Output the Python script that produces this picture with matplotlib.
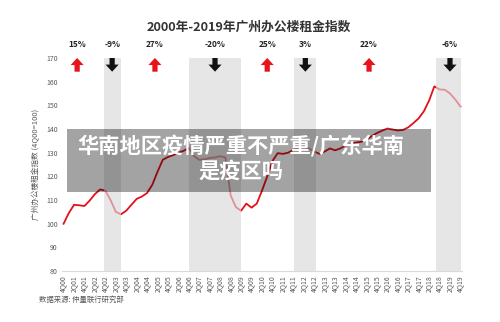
'''
2000-2019 Guangzhou office rent index, with up/down cycle markers.
'''

import matplotlib
matplotlib.use('Agg')
import matplotlib.pyplot as plt
import matplotlib.patches as mpatches

plt.rcParams['font.family'] = ['Noto Sans CJK SC', 'DejaVu Sans']

# quarterly index, 4Q00 .. 4Q19 (4Q00 = 100)
rent_index = [
    100, 104.5, 108, 107.8, 107.5, 109.8, 112.5, 114.5, 114, 110,
    105, 104, 105.5, 108, 110.5, 111.5, 113, 116.5, 122, 127,
    128.2, 129, 130, 130.8, 132, 128.5, 127, 127.2, 127.8, 128,
    128.5, 128, 112, 107, 105.5, 108.5, 106.8, 108.5, 114, 120,
    126.5, 129.8, 129.5, 130, 131.2, 132, 132.5, 131.8, 130.5, 129.5,
    130.5, 131.8, 131, 131.8, 133, 133.8, 134.3, 134.6, 135.5, 137,
    138.3, 139.3, 140.2, 139.8, 139.4, 139.6, 140.7, 142.5, 144.5, 147.5,
    152, 158, 156.7, 156.6, 155, 152.5, 149.5,
]

tick_labels = []
for yr in range(0, 20):
    if yr > 0:
        tick_labels.append('2Q%02d' % yr)
    tick_labels.append('4Q%02d' % yr)

# downturn periods (start, end) in quarters from 4Q00
down_periods = [(7.8, 11.0), (24.0, 34.0), (44.1, 48.4), (71.3, 76.2)]

# cycle arrows: position (quarters), change label, direction
arrow_pos = [2.6, 9.3, 17.5, 29.0, 39.0, 46.3, 58.5, 74.0]
arrow_text = ['15%', '-9%', '27%', '-20%', '25%', '3%', '22%', '-6%']
arrow_up = [True, False, True, False, True, False, True, False]

fig = plt.figure(figsize=(5, 3.22), dpi=100)
ax = fig.add_axes([0.124, 0.158, 0.8, 0.662])

x = range(len(rent_index))
ax.plot(x, rent_index, color='#e3101b', lw=1.3, zorder=2)

for a, b in down_periods:
    ax.axvspan(a, b, color='#d9d9d9', alpha=0.65, lw=0, zorder=3)

for pos, txt, up in zip(arrow_pos, arrow_text, arrow_up):
    if up:
        arr = mpatches.FancyArrow(pos, 164.2, 0, 5.8, width=1.0, head_width=2.5,
                                  head_length=3.0, length_includes_head=True,
                                  color='#e8141c', lw=0, zorder=4)
    else:
        arr = mpatches.FancyArrow(pos, 170.0, 0, -5.8, width=1.0, head_width=2.5,
                                  head_length=3.0, length_includes_head=True,
                                  color='#111111', lw=0, zorder=4)
    ax.add_patch(arr)
    ax.text(pos, 1.061, txt, transform=ax.get_xaxis_transform(), ha='center',
            va='center', fontsize=6, fontweight='bold', color='#222222')

ax.set_xlim(-0.3, 76.3)
ax.set_ylim(80, 170)
ax.set_yticks(range(80, 171, 10))
ax.set_xticks(range(0, 77, 2))
ax.set_xticklabels(tick_labels, rotation=90)
ax.tick_params(axis='both', length=0, labelsize=5, colors='#595959', pad=3)
for s in ['top', 'right', 'left']:
    ax.spines[s].set_visible(False)
ax.spines['bottom'].set_color('#d9d9d9')
ax.spines['bottom'].set_linewidth(0.8)

ax.set_ylabel('广州办公楼租金指数 (4Q00=100)', fontsize=5.5, color='#595959', labelpad=4)

fig.text(0.497, 0.916, '2000年-2019年广州办公楼租金指数', ha='center', va='center',
         fontsize=9.2, fontweight='bold', color='#333333')
fig.text(0.078, 0.068, '数据来源: 仲量联行研究部', ha='left', va='center',
         fontsize=5.3, color='#595959')

# caption banner over the chart
fig.patches.append(mpatches.Rectangle((0.134, 0.404), 0.728, 0.196,
                                      transform=fig.transFigure, color='black',
                                      alpha=0.36, lw=0, zorder=5))
fig.text(0.482, 0.508, '华南地区疫情严重不严重/广东华南\n是疫区吗', ha='center',
         va='center', multialignment='center', fontsize=15.3, fontweight='bold',
         color='white', linespacing=1.2, zorder=6)

fig.savefig('out.png', dpi=100)
